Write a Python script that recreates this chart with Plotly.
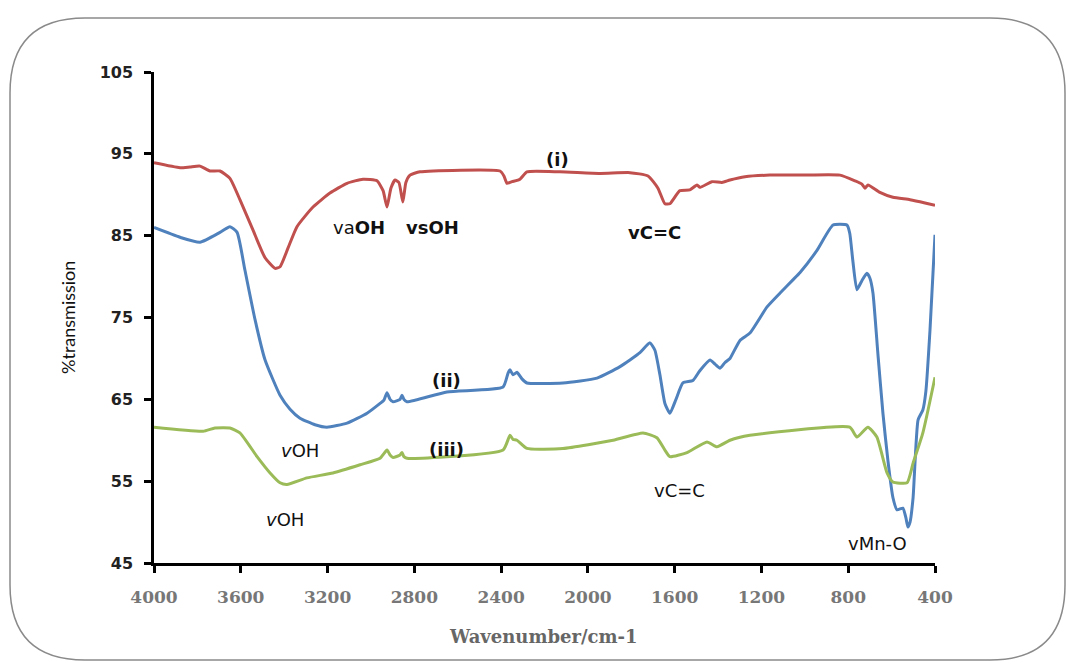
import plotly.graph_objects as go

# ---- data (wavenumber cm-1, % transmission) ----
wn_i = [4000, 3880, 3834, 3788, 3742, 3696, 3650, 3604, 3544, 3488, 3442, 3419, 3382, 3341, 3267,
        3189, 3110, 3037, 2972, 2944, 2926, 2908, 2889, 2871, 2853, 2839, 2820, 2774, 2405, 2387,
        2373, 2350, 2313, 2281, 2129, 1944, 1806, 1723, 1677, 1645, 1622, 1576, 1530, 1497, 1483,
        1428, 1382, 1345, 1276, 1161, 1022, 838, 769, 737, 723, 709, 654, 594, 515, 446, 400]
t_i = [93.9, 93.3, 93.4, 93.5, 92.9, 92.9, 92.0, 89.4, 85.7, 82.3, 81.0, 81.2, 83.5, 86.1, 88.5,
       90.2, 91.4, 91.9, 91.7, 90.5, 88.5, 90.8, 91.8, 91.5, 89.1, 91.5, 92.4, 92.8, 92.9, 92.3,
       91.4, 91.6, 91.9, 92.8, 92.8, 92.6, 92.7, 92.3, 90.8, 88.9, 88.9, 90.5, 90.6, 91.2, 90.9,
       91.6, 91.5, 91.8, 92.2, 92.4, 92.4, 92.4, 91.7, 91.3, 90.8, 91.2, 90.3, 89.7, 89.4, 89.0, 88.7]

wn_ii = [4000, 3880, 3788, 3696, 3650, 3617, 3581, 3534, 3488, 3419, 3373, 3327, 3258, 3203, 3110,
         3018, 2958, 2940, 2926, 2912, 2898, 2866, 2857, 2848, 2834, 2650, 2391, 2368, 2359, 2345,
         2327, 2304, 2281, 2115, 1958, 1852, 1760, 1714, 1691, 1668, 1645, 1622, 1594, 1562, 1516,
         1484, 1437, 1414, 1391, 1368, 1345, 1299, 1253, 1174, 1114, 1055, 1022, 944, 870, 806,
         793, 779, 760, 737, 714, 700, 686, 663, 640, 617, 594, 575, 548, 534, 525, 515, 501,
         478, 456, 442, 423, 400]
t_ii = [86.0, 84.8, 84.2, 85.4, 86.1, 85.4, 80.8, 74.7, 69.8, 65.5, 63.8, 62.7, 61.9, 61.6, 62.1,
        63.3, 64.5, 64.9, 65.8, 65.0, 64.7, 65.0, 65.5, 65.0, 64.7, 65.9, 66.5, 68.2, 68.6, 68.0,
        68.3, 67.5, 67.0, 67.0, 67.6, 69.0, 70.7, 71.9, 71.0, 68.0, 64.5, 63.3, 65.0, 67.0, 67.3,
        68.5, 69.8, 69.3, 68.8, 69.5, 70.0, 72.2, 73.1, 76.3, 78.0, 79.6, 80.5, 83.2, 86.3, 86.3,
        85.3, 82.0, 78.4, 79.5, 80.4, 79.8, 78.0, 70.5, 63.3, 57.5, 53.0, 51.5, 51.7, 50.5, 49.4,
        50.0, 53.0, 62.5, 63.7, 66.0, 73.5, 85.1]

wn_iii = [4000, 3774, 3719, 3650, 3604, 3525, 3465, 3419, 3387, 3295, 3175, 3050, 2958, 2926, 2912,
          2898, 2866, 2857, 2848, 2834, 2391, 2359, 2345, 2327, 2281, 2115, 1884, 1746, 1682, 1645,
          1622, 1543, 1451, 1405, 1345, 1253, 793, 760, 709, 668, 621, 594, 529, 501, 456, 400]
t_iii = [61.6, 61.1, 61.5, 61.5, 60.9, 58.0, 56.0, 54.8, 54.6, 55.4, 56.0, 57.0, 57.8, 58.8, 58.2,
         57.9, 58.2, 58.5, 58.0, 57.8, 58.8, 60.6, 60.1, 60.0, 59.0, 59.0, 60.0, 60.9, 60.3, 58.8,
         58.0, 58.5, 59.8, 59.2, 60.0, 60.6, 61.6, 60.4, 61.6, 60.4, 56.0, 54.9, 54.8, 57.2, 60.9, 67.7]

x_ticks = [4000, 3600, 3200, 2800, 2400, 2000, 1600, 1200, 800, 400]
y_ticks = [45, 55, 65, 75, 85, 95, 105]

# annotations: (text, wavenumber, %T)
labels = [
    ("<b>(i)</b>", 2138, 94.3),
    ("va<b>OH</b>", 3055, 86.0),
    ("<b>vsOH</b>", 2714, 86.0),
    ("<b>vC=C</b>", 1691, 85.4),
    ("<b>(ii)</b>", 2650, 67.3),
    ("<i>v</i>OH", 3327, 58.8),
    ("<b>(iii)</b>", 2650, 58.9),
    ("<i>v</i>OH", 3396, 50.3),
    ("vC=C", 1576, 53.9),
    ("vMn-O", 664, 47.4),
]

fig = go.Figure()
common = dict(mode="lines", line_shape="spline")
fig.add_trace(go.Scatter(x=wn_i, y=t_i, line=dict(color="#C0504D", width=3, smoothing=0.5), name="(i)", **common))
fig.add_trace(go.Scatter(x=wn_ii, y=t_ii, line=dict(color="#4F81BD", width=3, smoothing=0.5), name="(ii)", **common))
fig.add_trace(go.Scatter(x=wn_iii, y=t_iii, line=dict(color="#9BBB59", width=3, smoothing=0.5), name="(iii)", **common))

for txt, xx, yy in labels:
    fig.add_annotation(x=xx, y=yy, text=txt, showarrow=False,
                       font=dict(family="DejaVu Sans, sans-serif", size=18, color="#111"))

# axis titles
fig.add_annotation(xref="paper", yref="paper", x=(543 - 154) / 781, y=(563 - 636) / 491,
                   xanchor="center", yanchor="middle",
                   text="<b>Wavenumber/cm-1</b>", showarrow=False,
                   font=dict(family="DejaVu Serif, serif", size=18, color="#666"))
fig.add_annotation(xref="paper", yref="paper", x=(68 - 154) / 781, y=(563 - 318) / 491,
                   xanchor="center", yanchor="middle",
                   text="%transmission", textangle=-90, showarrow=False,
                   font=dict(family="Lato, sans-serif", size=18, color="#111"))

# rounded border
def px(xp):
    return (xp - 154) / 781

def py(yp):
    return (563 - yp) / 491

x0, x1, y0, y1 = px(10), px(1065), py(660), py(18)
rx, ry = 75 / 781, 75 / 491
path = (f"M {x0+rx},{y1} L {x1-rx},{y1} Q {x1},{y1} {x1},{y1-ry} L {x1},{y0+ry} "
        f"Q {x1},{y0} {x1-rx},{y0} L {x0+rx},{y0} Q {x0},{y0} {x0},{y0+ry} "
        f"L {x0},{y1-ry} Q {x0},{y1} {x0+rx},{y1} Z")
fig.add_shape(type="path", path=path, xref="paper", yref="paper",
              line=dict(color="#8a8a8a", width=1.5), layer="below")

fig.update_layout(
    width=1072, height=664,
    margin=dict(l=154, r=137, t=72, b=101),
    paper_bgcolor="white", plot_bgcolor="white",
    showlegend=False,
    xaxis=dict(range=[4000, 400], tickvals=x_ticks, ticktext=[f"<b>{v}</b>" for v in x_ticks],
               showgrid=False, zeroline=False, showline=True, linecolor="black", linewidth=2.5,
               ticks="outside", ticklen=7, tickwidth=2.5, tickcolor="black",
               ticklabelstandoff=10,
               tickfont=dict(family="DejaVu Serif, serif", size=17, color="#777")),
    yaxis=dict(range=[45, 105], tickvals=y_ticks, ticktext=[f"<b>{v}</b>" for v in y_ticks],
               showgrid=False, zeroline=False, showline=True, linecolor="black", linewidth=2.5,
               ticks="outside", ticklen=7, tickwidth=2.5, tickcolor="black",
               ticklabelstandoff=8,
               tickfont=dict(family="DejaVu Sans, sans-serif", size=16, color="#222")),
)

fig.write_html("out.html")
